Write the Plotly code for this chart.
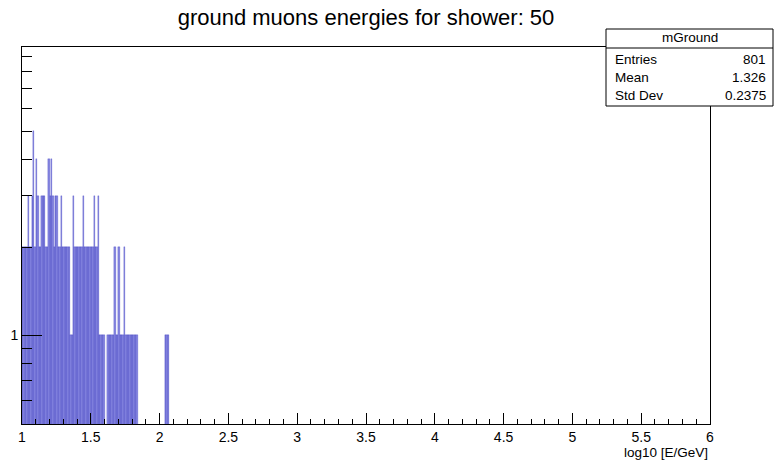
import plotly.graph_objects as go

# ---- data ----
bin_width = 0.01
bin_left = [round(1.00 + i * 0.01, 2) for i in range(107)]  # 1.00 ... 2.06
counts = [
    2, 2, 2, 2, 3, 2, 2, 3, 5, 2,   # 1.00-1.09
    4, 3, 2, 2, 3, 3, 3, 2, 2, 4,   # 1.10-1.19
    3, 4, 3, 2, 3, 3, 2, 2, 3, 2,   # 1.20-1.29
    2, 2, 2, 2, 2, 1, 1, 3, 2, 2,   # 1.30-1.39
    2, 2, 2, 2, 3, 2, 2, 2, 2, 2,   # 1.40-1.49
    2, 2, 3, 2, 2, 3, 1, 1, 1, 1,   # 1.50-1.59
    0, 0, 1, 1, 1, 1, 1, 2, 1, 1,   # 1.60-1.69
    2, 1, 1, 1, 2, 1, 1, 1, 1, 1,   # 1.70-1.79
    1, 1, 1, 1, 0, 0, 0, 0, 0, 0,   # 1.80-1.89
    0, 0, 0, 0, 0, 0, 0, 0, 0, 0,   # 1.90-1.99
    0, 0, 0, 0, 1, 1, 1,            # 2.00-2.06
]
x_tick_vals = [1, 1.5, 2, 2.5, 3, 3.5, 4, 4.5, 5, 5.5, 6]
x_tick_text = ["1", "1.5", "2", "2.5", "3", "3.5", "4", "4.5", "5", "5.5", "6"]
y_tick_vals = [1]
y_tick_text = ["1"]
y_minor_vals = [0.6, 0.7, 0.8, 0.9, 2, 3, 4, 5, 6, 7, 8, 9]
stats_labels = ["Entries", "Mean", "Std Dev"]
stats_values = ["801", "1.326", "0.2375"]
hist_name = "mGround"
title_text = "ground muons energies for shower: 50"
x_title = "log10 [E/GeV]"

FONT = "Liberation Sans, Arial, Helvetica, sans-serif"

centers = [b + bin_width / 2 for b in bin_left]
xs = [c for c, n in zip(centers, counts) if n > 0]
ys = [n for n in counts if n > 0]

fig = go.Figure()
fig.add_trace(go.Bar(
    x=xs, y=ys, width=bin_width,
    marker=dict(color="rgb(135,135,224)", line=dict(color="rgba(0,0,170,0.6)", width=0.35)),
    showlegend=False,
))

W, H = 774, 461
L, R, T, B = 22, 64, 47, 37
pw = W - L - R
ph = H - T - B

def px_x(p):
    return (p - L) / pw

def px_y(p):
    return (H - B - p) / ph

fig.update_layout(
    width=W, height=H,
    margin=dict(l=L, r=R, t=T, b=B, autoexpand=False),
    paper_bgcolor="white", plot_bgcolor="white",
    bargap=0,
    font=dict(family=FONT, color="black"),
    title=dict(text=title_text, x=366 / W, xanchor="center", y=1 - 17 / H, yanchor="middle",
               font=dict(size=22, family=FONT, color="black")),
    xaxis=dict(
        range=[1, 6], showgrid=False, zeroline=False, automargin=False,
        showline=True, linecolor="black", linewidth=1, mirror=True,
        ticks="inside", ticklen=11, tickcolor="black", tickwidth=1,
        tickmode="array", tickvals=x_tick_vals, ticktext=x_tick_text,
        tickfont=dict(size=14, family=FONT, color="black"),
        minor=dict(dtick=0.1, tick0=1, ticks="inside", ticklen=5.5, tickcolor="black", showgrid=False),
    ),
    yaxis=dict(
        type="log", range=[-0.3038, 0.9873], showgrid=False, zeroline=False, automargin=False,
        showline=True, linecolor="black", linewidth=1, mirror=True,
        ticks="inside", ticklen=20, tickcolor="black", tickwidth=1,
        tickmode="array", tickvals=y_tick_vals, ticktext=y_tick_text,
        tickfont=dict(size=14, family=FONT, color="black"),
        minor=dict(tickmode="array", tickvals=y_minor_vals, ticks="inside", ticklen=10,
                   tickcolor="black", showgrid=False),
    ),
)

# x axis title (ROOT style: right aligned under the axis)
fig.add_annotation(text=x_title, xref="paper", yref="paper", x=1.0, xanchor="right",
                   y=px_y(452), yanchor="middle", showarrow=False,
                   font=dict(size=13.5, family=FONT, color="black"))

# stats box
bx0, bx1 = px_x(606), px_x(773)
by_top, by_sep, by_bot = px_y(29), px_y(48), px_y(106)
fig.add_shape(type="rect", xref="paper", yref="paper", x0=bx0, x1=bx1, y0=by_bot, y1=by_top,
              line=dict(color="black", width=1), fillcolor="white", layer="above")
fig.add_shape(type="line", xref="paper", yref="paper", x0=bx0, x1=bx1, y0=by_sep, y1=by_sep,
              line=dict(color="black", width=1), layer="above")
fig.add_annotation(text=hist_name, xref="paper", yref="paper", x=(bx0 + bx1) / 2, xanchor="center",
                   y=px_y(38), yanchor="middle", showarrow=False,
                   font=dict(size=13.5, family=FONT, color="black"))
row_y = [59, 77, 95]
for lab, val, ry in zip(stats_labels, stats_values, row_y):
    fig.add_annotation(text=lab, xref="paper", yref="paper", x=px_x(613), xanchor="left",
                       y=px_y(ry), yanchor="middle", showarrow=False,
                       font=dict(size=13.5, family=FONT, color="black"))
    fig.add_annotation(text=val, xref="paper", yref="paper", x=px_x(768), xanchor="right",
                       y=px_y(ry), yanchor="middle", showarrow=False,
                       font=dict(size=13.5, family=FONT, color="black"))

fig.write_html(
    "out.html",
    config={"displayModeBar": False},
    post_script="document.body.style.margin='0';document.body.style.padding='0';",
)
